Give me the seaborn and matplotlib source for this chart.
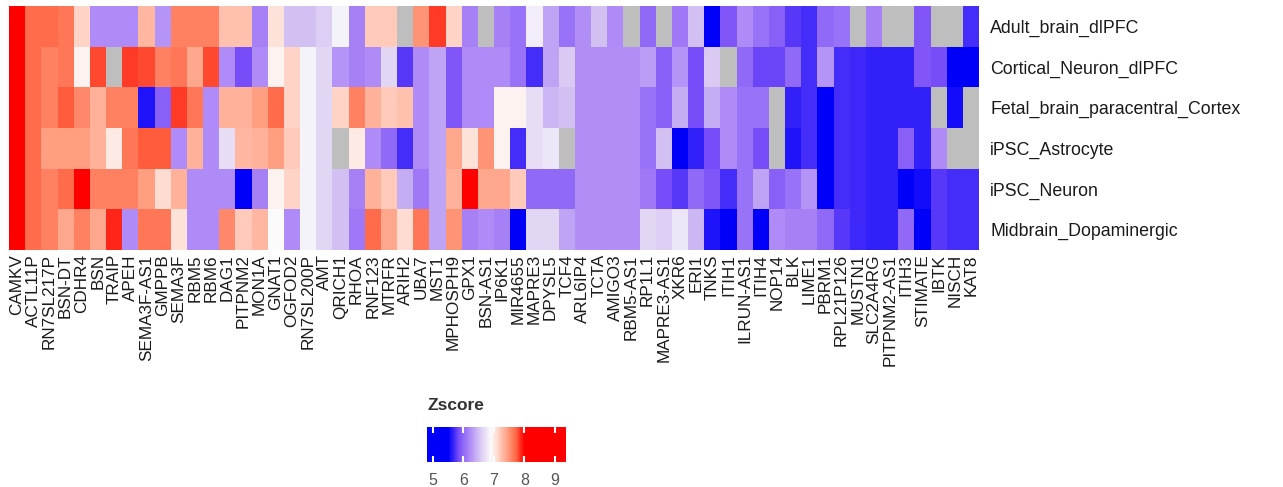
import numpy as np
import pandas as pd
import matplotlib.pyplot as plt
import seaborn as sns
from matplotlib.colors import LinearSegmentedColormap

nan = np.nan

genes = ['CAMKV', 'ACTL11P', 'RN7SL217P', 'BSN-DT', 'CDHR4', 'BSN', 'TRAIP', 'APEH',
         'SEMA3F-AS1', 'GMPPB', 'SEMA3F', 'RBM5', 'RBM6', 'DAG1', 'PITPNM2', 'MON1A',
         'GNAT1', 'OGFOD2', 'RN7SL200P', 'AMT', 'QRICH1', 'RHOA', 'RNF123', 'MTRFR',
         'ARIH2', 'UBA7', 'MST1', 'MPHOSPH9', 'GPX1', 'BSN-AS1', 'IP6K1', 'MIR4655',
         'MAPRE3', 'DPYSL5', 'TCF4', 'ARL6IP4', 'TCTA', 'AMIGO3', 'RBM5-AS1', 'RP1L1',
         'MAPRE3-AS1', 'XKR6', 'ERI1', 'TNKS', 'ITIH1', 'ILRUN-AS1', 'ITIH4', 'NOP14',
         'BLK', 'LIME1', 'PBRM1', 'RPL21P126', 'MUSTN1', 'SLC2A4RG', 'PITPNM2-AS1',
         'ITIH3', 'STIMATE', 'IBTK', 'NISCH', 'KAT8']

tissues = ['Adult_brain_dlPFC', 'Cortical_Neuron_dlPFC', 'Fetal_brain_paracentral_Cortex',
           'iPSC_Astrocyte', 'iPSC_Neuron', 'Midbrain_Dopaminergic']

adult_brain = [8.5, 7.7, 7.7, 7.65, 7.15, 6.2, 6.2, 6.2, 7.3, 6.25, 7.6, 7.6, 7.6, 7.25, 7.25,
               6.15, 7.05, 6.5, 6.5, 6.6, 6.85, 6.15, 7.2, 7.2, nan, 7.5, 7.85, 7.15, 6.15, nan,
               6.15, 6.05, 6.8, 6.35, 6.05, 6.22, 6.5, 6.2, nan, 6.0, nan, 6.1, 6.5, 5.45, 5.9,
               6.2, 6.05, 5.95, 5.75, 5.7, 6.0, 6.05, nan, 6.15, nan, nan, 5.9, nan, nan, 5.7]
cortical_neuron = [8.5, 7.7, 7.6, 7.65, 6.95, 7.8, nan, 7.85, 7.8, 7.6, 7.65, 7.4, 7.8, 6.2, 5.85,
                   6.2, 6.95, 7.15, 6.85, 6.65, 6.25, 6.15, 6.2, 6.65, 5.75, 6.2, 6.35, 5.9, 6.2, 6.2,
                   6.2, 6.05, 5.7, 6.35, 6.55, 6.22, 6.22, 6.22, 6.22, 6.3, 5.95, 6.25, 5.85, 6.55, nan,
                   6.0, 5.8, 5.8, 6.0, 5.7, 6.25, 5.7, 5.68, 5.65, 5.65, 5.65, 5.9, 5.85, 5.5, 5.5]
fetal_brain = [8.5, 7.7, 7.6, 7.75, 7.55, 7.35, 7.6, 7.6, 5.6, 5.95, 7.85, 7.65, 6.2, 7.35, 7.35,
               7.45, 7.7, 7.15, 6.85, 6.65, 7.15, 7.6, 7.35, 7.2, 7.25, 6.2, 6.35, 5.9, 6.2, 6.2,
               6.95, 6.95, 6.7, 6.45, 6.5, 6.22, 6.22, 6.22, 6.22, 6.05, 5.95, 6.4, 5.85, 6.4, 6.2,
               6.05, 6.05, nan, 5.65, 5.7, 5.5, 5.7, 5.68, 5.65, 5.65, 5.65, 5.65, nan, 5.55, nan]
ipsc_astrocyte = [8.5, 7.7, 7.45, 7.45, 7.45, 7.35, 7.0, 7.65, 7.75, 7.75, 6.2, 7.35, 6.2, 6.7, 7.3,
                  7.35, 7.45, 7.2, 6.85, 6.65, nan, 7.0, 6.2, 6.0, 5.7, 6.2, 6.35, 7.4, 7.05, 7.5,
                  6.95, 5.7, 6.7, 6.75, nan, 6.22, 6.22, 6.22, 6.22, 6.05, 6.5, 5.4, 5.65, 5.85, 6.2,
                  6.05, 5.85, nan, 5.6, 5.7, 5.5, 5.7, 5.68, 5.65, 5.65, 5.95, 5.65, 6.2, nan, nan]
ipsc_neuron = [8.5, 7.7, 7.6, 7.7, 8.3, 7.6, 7.6, 7.6, 7.45, 7.1, 7.35, 6.2, 6.2, 6.2, 5.5,
               6.15, 6.95, 7.15, 6.85, 6.65, 6.5, 6.15, 7.35, 7.2, 6.4, 6.1, 6.35, 7.35, 8.3, 7.4,
               7.4, 7.2, 6.0, 6.0, 6.0, 6.22, 6.22, 6.22, 6.22, 6.1, 5.85, 5.75, 6.0, 5.9, 5.7,
               6.05, 6.35, 5.95, 6.05, 6.25, 5.5, 5.7, 5.68, 5.65, 5.65, 5.2, 5.55, 5.75, 5.7, 5.7]
midbrain_da = [8.5, 7.7, 7.6, 7.4, 7.6, 7.4, 7.9, 6.2, 7.65, 7.65, 7.05, 6.2, 6.2, 7.55, 7.2,
               7.3, 6.9, 6.2, 6.85, 6.65, 6.5, 6.1, 7.7, 7.4, 7.1, 7.65, 6.35, 7.5, 6.15, 6.2,
               6.15, 5.2, 6.65, 6.65, 6.35, 6.22, 6.22, 6.22, 6.22, 6.65, 6.6, 6.75, 6.45, 5.6, 5.2,
               6.05, 5.2, 6.2, 6.15, 6.15, 6.0, 5.75, 5.68, 5.65, 5.65, 6.0, 5.2, 5.75, 5.7, 5.7]

legend_ticks = [5, 6, 7, 8, 9]
z_min, z_max = 4.8, 9.37

df = pd.DataFrame([adult_brain, cortical_neuron, fetal_brain, ipsc_astrocyte, ipsc_neuron, midbrain_da],
                  index=tissues, columns=genes)

# blue-white-red ramp, midpoints picked to look like a Lab interpolation
stops = [(4.8, '#0000fa'), (5.5, '#0000fa'), (5.85, '#7a4ff8'), (6.2, '#ae8bf6'),
         (6.55, '#d8c8f3'), (6.9, '#fbfbfb'), (7.175, '#ffcfbf'), (7.45, '#ff9e82'),
         (7.725, '#ff6846'), (8.0, '#ff0000'), (9.37, '#ff0000')]
cmap = LinearSegmentedColormap.from_list(
    'zscore', [((v - z_min) / (z_max - z_min), c) for v, c in stops])

plt.rcParams['font.family'] = ['Liberation Sans', 'DejaVu Sans']

fig = plt.figure(figsize=(12.83, 4.87), dpi=100)
ax = fig.add_axes([9 / 1283, 1 - 250 / 487, 970 / 1283, 244 / 487])
cax = fig.add_axes([427 / 1283, 1 - 462 / 487, 139 / 1283, 35 / 487])

sns.heatmap(df, ax=ax, cmap=cmap, vmin=z_min, vmax=z_max, cbar_ax=cax,
            cbar_kws={'orientation': 'horizontal', 'ticks': legend_ticks},
            xticklabels=True, yticklabels=True)
ax.set_facecolor('#bebebe')
ax.set_xlabel('')
ax.set_ylabel('')
ax.yaxis.tick_right()
ax.tick_params(axis='both', length=0, colors='#1a1a1a')
ax.tick_params(axis='x', pad=3, labelrotation=90, labelsize=12.3)
ax.tick_params(axis='y', pad=8, labelrotation=0, labelsize=12.8)

cbar = ax.collections[0].colorbar
cbar.outline.set_visible(False)
cax.tick_params(direction='in', color='white', width=1.5, length=4, top=True, bottom=True,
                labeltop=False, labelcolor='#555555', labelsize=11.5, pad=8)
fig.text(427 / 1283, 1 - 405 / 487, 'Zscore', fontsize=12.5, fontweight='bold',
         color='#333333', va='center', ha='left')

fig.savefig('out.png', dpi=100)
